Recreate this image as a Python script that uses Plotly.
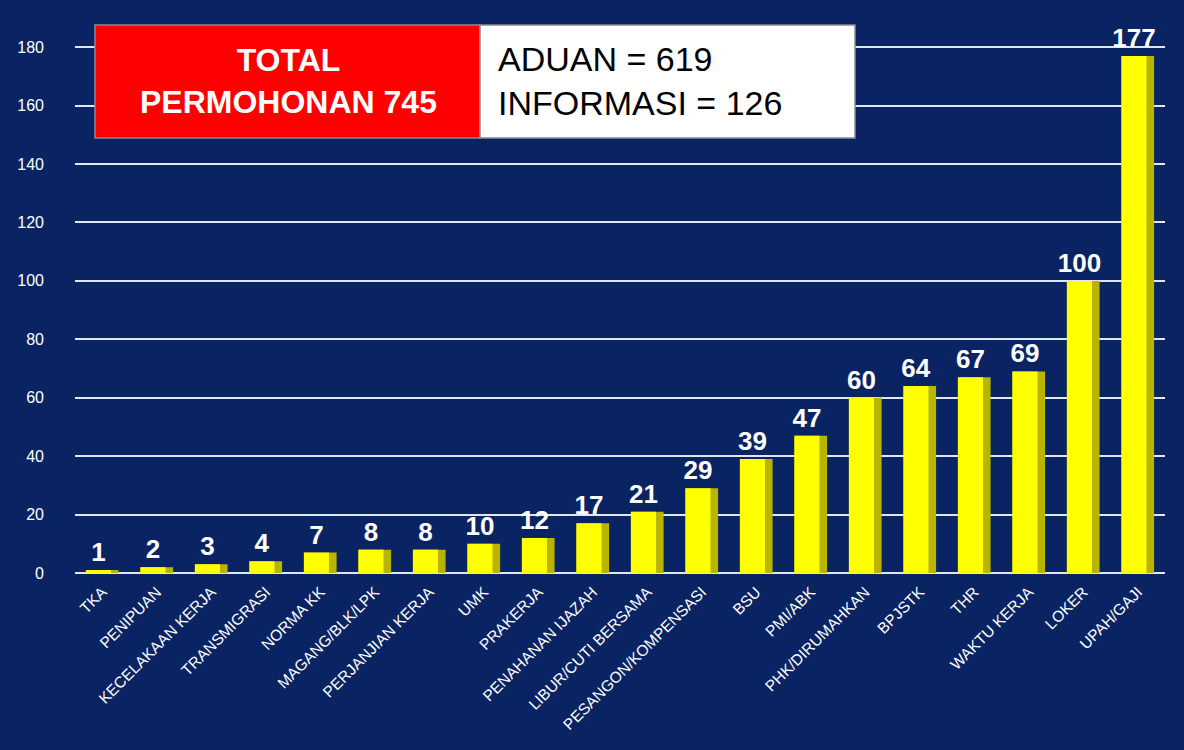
import plotly.graph_objects as go

categories = ["TKA", "PENIPUAN", "KECELAKAAN KERJA", "TRANSMIGRASI", "NORMA KK",
              "MAGANG/BLK/LPK", "PERJANJIAN KERJA", "UMK", "PRAKERJA", "PENAHANAN IJAZAH",
              "LIBUR/CUTI BERSAMA", "PESANGON/KOMPENSASI", "BSU", "PMI/ABK", "PHK/DIRUMAHKAN",
              "BPJSTK", "THR", "WAKTU KERJA", "LOKER", "UPAH/GAJI"]
values = [1, 2, 3, 4, 7, 8, 8, 10, 12, 17, 21, 29, 39, 47, 60, 64, 67, 69, 100, 177]
y_ticks = [0, 20, 40, 60, 80, 100, 120, 140, 160, 180]

FONT = "Liberation Sans Narrow, Arial Narrow, Liberation Sans, Arial"
BG = "#0a2463"

L, R, T, B = 75, 19, 18, 177
PW = 1184 - L - R
PH = 750 - T - B

fig = go.Figure()
# side face for 3D effect
fig.add_trace(go.Bar(x=categories, y=values, width=0.6, offset=-0.3,
                     marker=dict(color="#b8b400", line=dict(width=0)),
                     hoverinfo="skip", showlegend=False))
fig.add_trace(go.Bar(x=categories, y=values, width=0.46, offset=-0.3,
                     marker=dict(color="#ffff00", line=dict(width=0)),
                     text=["<b>%d</b>" % v for v in values], textposition="outside",
                     constraintext="none",
                     textfont=dict(color="white", size=26, family=FONT),
                     cliponaxis=False, showlegend=False))

fig.update_layout(
    width=1184, height=750,
    paper_bgcolor=BG, plot_bgcolor=BG,
    margin=dict(l=L, r=R, t=T, b=B),
    barmode="overlay",
    font=dict(family=FONT, color="white"),
    xaxis=dict(tickangle=-45, tickfont=dict(size=15.5, color="white", family=FONT),
               showgrid=False, showline=False, zeroline=False, ticks="",
               ticklabelstandoff=6),
    yaxis=dict(range=[0, 190], tickvals=y_ticks, showgrid=True, gridcolor="#dfe6f5",
               gridwidth=2, zeroline=True, zerolinecolor="#dfe6f5", zerolinewidth=2,
               tickfont=dict(size=16, color="white", family=FONT), ticklabelstandoff=30,
               showline=False),
)

def px_x(p):
    return (p - L) / PW

def px_y(p):
    return (750 - B - p) / PH

# header boxes
fig.add_shape(type="rect", xref="paper", yref="paper",
              x0=px_x(95), x1=px_x(480), y0=px_y(138), y1=px_y(25),
              fillcolor="#ff0000", line=dict(color="#8a8a8a", width=1.5), layer="above")
fig.add_shape(type="rect", xref="paper", yref="paper",
              x0=px_x(480), x1=px_x(855), y0=px_y(138), y1=px_y(25),
              fillcolor="#ffffff", line=dict(color="#8a8a8a", width=1.5), layer="above")
fig.add_annotation(xref="paper", yref="paper", x=px_x(288), y=px_y(81),
                   xanchor="center", yanchor="middle",
                   text="<b>TOTAL<br>PERMOHONAN 745</b>", showarrow=False,
                   font=dict(color="white", size=32, family=FONT), align="center")
fig.add_annotation(xref="paper", yref="paper", x=px_x(496), y=px_y(81),
                   xanchor="left", yanchor="middle",
                   text="ADUAN = 619<br>INFORMASI = 126", showarrow=False,
                   font=dict(color="black", size=34, family=FONT), align="left")

fig.write_html("out.html", config={"displayModeBar": False},
               post_script="document.body.style.margin='0';document.body.style.overflow='hidden';")
